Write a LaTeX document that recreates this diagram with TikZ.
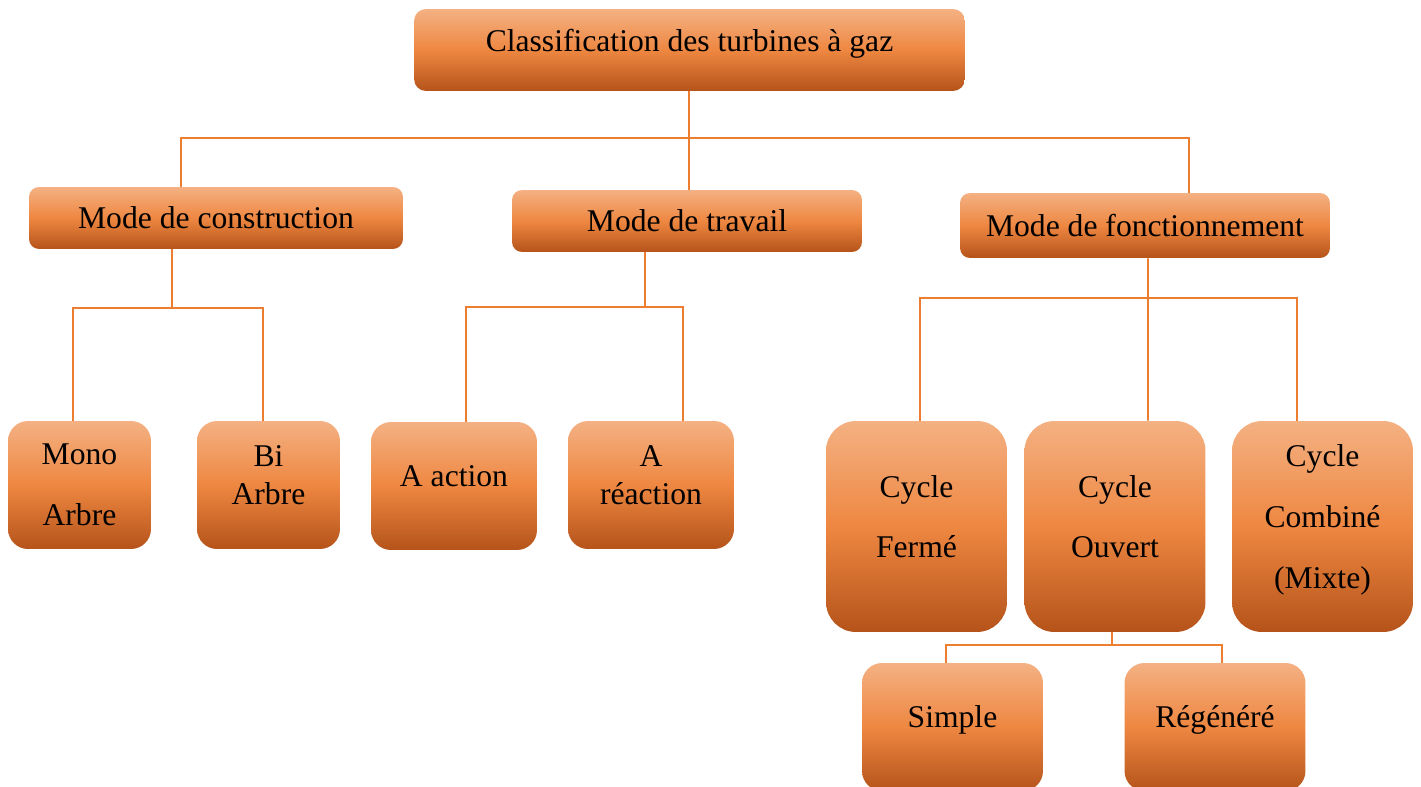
\documentclass[tikz,border=0pt]{standalone}
\usepackage{fontspec}
\setmainfont{Liberation Serif}
\definecolor{tgTop}{HTML}{F4B183}
\definecolor{tgMid}{HTML}{EE8741}
\definecolor{tgBot}{HTML}{B5531A}
\definecolor{tgLine}{HTML}{ED7D31}
\tikzset{
  tg/.style={x=0.02cm, y=-0.02cm, font=\fontsize{18}{21.6}\selectfont},
  box/.style={top color=tgTop, bottom color=tgBot, middle color=tgMid, align=center, inner sep=3pt},
  head/.style={box, minimum width=11.02cm, minimum height=1.64cm, rounded corners=0.24cm},
  mode/.style={box, minimum height=1.24cm, rounded corners=0.2cm},
  leaf/.style={box, minimum width=2.86cm, minimum height=2.56cm, rounded corners=0.4cm},
  cyc/.style={box, minimum width=3.62cm, minimum height=4.22cm, rounded corners=0.6cm},
  lift/.style={text depth=0.4cm},
  link/.style={draw=tgLine, line width=1.1pt},
}
\begin{document}
\begin{tikzpicture}[tg]
\useasboundingbox (0,0) rectangle (1421,787);
\node[head, lift] (root) at (689.5,50) {Classification des turbines à gaz};
\node[mode, minimum width=7.48cm] (cons) at (216,218) {Mode de construction};
\node[mode, minimum width=7cm] (trav) at (687,221) {Mode de travail};
\node[mode, minimum width=7.4cm, minimum height=1.3cm] (fonc) at (1145,225.5) {Mode de fonctionnement};

\node[leaf] (mono) at (79.5,485) {Mono\\[13pt]Arbre};
\node[leaf, lift] (bi) at (268.5,485) {Bi\\Arbre};
\node[leaf, lift, minimum width=3.32cm] (act) at (454,486) {A action};
\node[leaf, lift, minimum width=3.32cm] (react) at (651,485) {A\\réaction};
\foreach \n/\x/\t in {ferme/916.5/{Cycle\\[13pt]Fermé}, ouvert/1115/{Cycle\\[13pt]Ouvert},
                      mixte/1322.5/{Cycle\\[13pt]Combiné\\[13pt](Mixte)}}
  \node[cyc, lift] (\n) at (\x,526.5) {\t};
\node[leaf, lift, minimum width=3.62cm] (simple) at (952.5,727) {Simple};
\node[leaf, lift, minimum width=3.62cm] (regen) at (1215,727) {Régénéré};

\draw[link] ([xshift=-0.01cm]root.south) -- ([xshift=-0.01cm]root.south |- trav.north);
\draw[link] ([xshift=-0.7cm]cons.north) -- ++(0,0.98cm) -| ([xshift=0.88cm]fonc.north);

\draw[link] ([xshift=-0.88cm]cons.south) -- ++(0,-1.18cm) coordinate (consbus);
\draw[link] ([xshift=-0.13cm]mono.north) |- (consbus) -| ([xshift=-0.11cm]bi.north);

\draw[link] ([xshift=-0.84cm]trav.south) -- ++(0,-1.1cm) coordinate (travbus);
\draw[link] ([xshift=0.24cm]act.north) |- (travbus) -| ([xshift=0.64cm]react.north);

\draw[link] ([xshift=0.06cm]fonc.south) -- ([xshift=0.66cm]ouvert.north);
\path ([xshift=0.06cm]fonc.south) ++(0,-0.8cm) coordinate (foncbus);
\draw[link] ([xshift=0.07cm]ferme.north) |- (foncbus) -| ([xshift=-0.51cm]mixte.north);

\draw[link] ([xshift=-0.06cm]ouvert.south) -- ++(0,-0.26cm) coordinate (ouvbus);
\draw[link] ([xshift=-0.13cm]simple.north) |- (ouvbus) -| ([xshift=0.14cm]regen.north);
\end{tikzpicture}
\end{document}
